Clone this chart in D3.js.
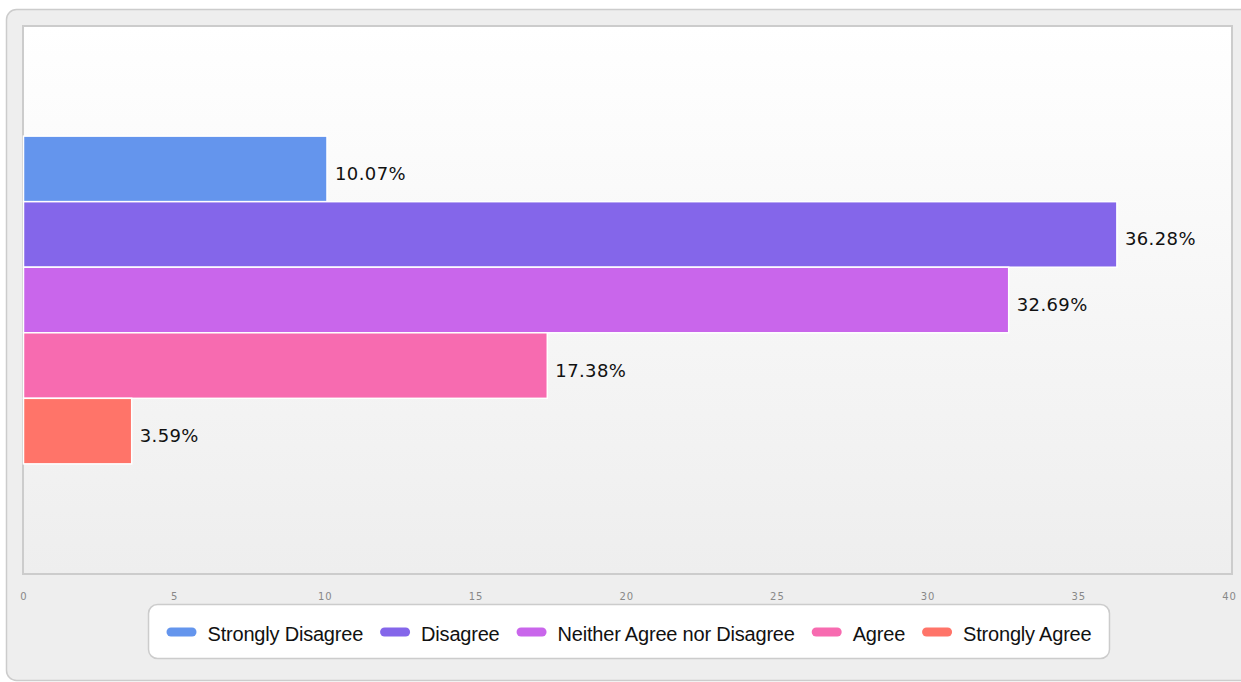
<!DOCTYPE html>
<html>
<head>
<meta charset="utf-8">
<script src="https://cdn.jsdelivr.net/npm/d3@7"></script>
<style>
  body { margin: 0; background: #fff; }
  svg { display: block; }
</style>
</head>
<body>
<div id="chart"></div>
<script>
const categories = [
  "Strongly Disagree",
  "Disagree",
  "Neither Agree nor Disagree",
  "Agree",
  "Strongly Agree",
];
const values = [10.07, 36.28, 32.69, 17.38, 3.59];
const colors = ["#6495ed", "#8466ea", "#c966eb", "#f76bb0", "#ff7469"];
const ticks = [0, 5, 10, 15, 20, 25, 30, 35, 40];

const width = 1241;
const height = 682;
const plot = { left: 23, top: 26, right: 1232, bottom: 574 };

const svg = d3
  .select("#chart")
  .append("svg")
  .attr("width", width)
  .attr("height", height);

// vertical gradient for the plot area
const grad = svg
  .append("defs")
  .append("linearGradient")
  .attr("id", "plotBg")
  .attr("x1", 0)
  .attr("y1", 0)
  .attr("x2", 0)
  .attr("y2", 1);
grad.append("stop").attr("offset", "0%").attr("stop-color", "#ffffff");
grad.append("stop").attr("offset", "100%").attr("stop-color", "#eeeeee");

// outer panel
svg
  .append("rect")
  .attr("x", 6.5)
  .attr("y", 9.5)
  .attr("width", 1260)
  .attr("height", 671)
  .attr("rx", 10)
  .attr("fill", "#eeeeee")
  .attr("stroke", "#cccccc")
  .attr("stroke-width", 1.5);

// plot area
svg
  .append("rect")
  .attr("x", plot.left)
  .attr("y", plot.top)
  .attr("width", plot.right - plot.left)
  .attr("height", plot.bottom - plot.top)
  .attr("fill", "url(#plotBg)")
  .attr("stroke", "#cccccc")
  .attr("stroke-width", 2);

const x = d3.scaleLinear().domain([0, 40]).range([23.5, 1229]);

const y = d3
  .scaleBand()
  .domain(categories)
  .range([plot.top, plot.bottom])
  .paddingInner(0)
  .paddingOuter(1.68);

// x-axis labels
svg
  .append("g")
  .attr("class", "ticks")
  .selectAll("text")
  .data(ticks)
  .enter()
  .append("text")
  .attr("x", (d) => x(d) + 0.5)
  .attr("y", 600)
  .attr("text-anchor", "middle")
  .attr("font-family", "DejaVu Sans, Verdana, sans-serif")
  .attr("font-size", 10)
  .attr("letter-spacing", 1)
  .attr("fill", "#888888")
  .text((d) => d);

const bars = svg
  .append("g")
  .attr("class", "bars")
  .selectAll("g")
  .data(categories)
  .enter()
  .append("g");

bars
  .append("rect")
  .attr("x", x(0))
  .attr("y", (d) => y(d))
  .attr("width", (d, i) => x(values[i]) - x(0))
  .attr("height", y.bandwidth())
  .attr("fill", (d, i) => colors[i])
  .attr("stroke", "#ffffff")
  .attr("stroke-width", 1.5);

bars
  .append("text")
  .attr("x", (d, i) => x(values[i]) + 8)
  .attr("y", (d) => y(d) + y.bandwidth() / 2 + 11)
  .attr("font-family", "DejaVu Sans, Verdana, sans-serif")
  .attr("font-size", 18)
  .attr("letter-spacing", 0.4)
  .attr("fill", "#111111")
  .text((d, i) => values[i].toFixed(2) + "%");

// legend
const legend = svg.append("g").attr("class", "legend");
const legendBox = legend
  .append("rect")
  .attr("y", 604.5)
  .attr("height", 54)
  .attr("rx", 9)
  .attr("fill", "#ffffff")
  .attr("stroke", "#cccccc")
  .attr("stroke-width", 1.5);

const items = legend
  .selectAll(".item")
  .data(categories)
  .enter()
  .append("g")
  .attr("class", "item");

items
  .append("rect")
  .attr("width", 30)
  .attr("height", 9)
  .attr("y", 627.5)
  .attr("rx", 4.5)
  .attr("fill", (d, i) => colors[i]);

const labels = items
  .append("text")
  .attr("y", 641)
  .attr("font-family", "Liberation Sans, Arial, sans-serif")
  .attr("font-size", 20)
  .attr("letter-spacing", -0.2)
  .attr("fill", "#111111")
  .text((d) => d);

// place legend items by text width, centred under the plot
let cursor = 0;
const offsets = [];
labels.each(function (d, i) {
  offsets.push(cursor);
  cursor += 30 + 11 + this.getComputedTextLength() + (i < categories.length - 1 ? 17 : 0);
});
const boxPad = 18;
const boxWidth = cursor + boxPad * 2;
const boxLeft = 629 - boxWidth / 2;
legendBox.attr("x", boxLeft).attr("width", boxWidth);
items.attr("transform", (d, i) => "translate(" + (boxLeft + boxPad + offsets[i]) + ",0)");
labels.attr("x", 41);
</script>
</body>
</html>
